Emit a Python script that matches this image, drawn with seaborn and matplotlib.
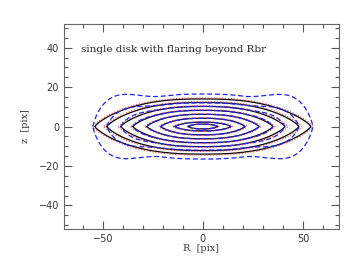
import numpy as np
import pandas as pd
import matplotlib
matplotlib.use("Agg")
import matplotlib.pyplot as plt
from matplotlib.ticker import MultipleLocator
import seaborn as sns

# isophotes: half-length along the midplane and half-height at R=0 (pix)
r_black = [7.5, 14, 21, 28, 35, 41, 48, 54]
z_black = [1.2, 2.2, 4.2, 6.2, 8.2, 10.2, 12.2, 14.0]
r_red = [8, 15, 22, 29, 36, 42.5, 49.5, 55]
z_red = [1.3, 2.4, 4.4, 6.4, 8.5, 10.5, 12.6, 14.5]
r_blue = [7, 14, 21, 28, 35, 41, 48, 55]
z_blue = [1.2, 2.2, 4.2, 6.2, 8.2, 10.2, 12.0, 16.5]

# flaring of the blue model beyond the break radius
r_break = 20.0
flare_amp = 0.00177
flare_pow = 1.94

label_text = "single disk with flaring beyond Rbr"

sns.set_style("ticks")
plt.rcParams["font.family"] = ["DejaVu Sans"]
plt.rcParams["lines.dashed_pattern"] = (4.0, 2.2)
plt.rcParams["lines.dotted_pattern"] = (1.0, 1.6)


def isophotes(r_list, z_list, flare=0.0):
    # closed lens-shaped isophotes, one unit per contour
    t = np.linspace(np.pi, 0, 400)
    rows = []
    for k, (a, b) in enumerate(zip(r_list, z_list)):
        x = a * np.cos(t)
        s = 1.0 + flare * np.clip(np.abs(x) - r_break, 0, None) ** flare_pow
        z = b * s * np.clip(1 - np.abs(x / a) ** 2.5, 0, None) ** 0.8
        xs = np.concatenate([x, x[::-1]])
        zs = np.concatenate([z, -z[::-1]])
        rows.append(pd.DataFrame({"R": xs, "z": zs, "iso": k}))
    return pd.concat(rows, ignore_index=True)


fig = plt.figure(figsize=(3.53, 2.73), dpi=100)
ax = fig.add_axes([0.181, 0.161, 0.779, 0.751])

sns.lineplot(data=isophotes(r_black, z_black), x="R", y="z", units="iso",
             estimator=None, sort=False, color="black", linewidth=0.9, ax=ax)
sns.lineplot(data=isophotes(r_red, z_red), x="R", y="z", units="iso",
             estimator=None, sort=False, color="#ff4040", linewidth=0.8,
             linestyle=":", ax=ax)
sns.lineplot(data=isophotes(r_blue, z_blue, flare_amp), x="R", y="z", units="iso",
             estimator=None, sort=False, color="#2020ff", linewidth=0.9,
             linestyle="--", ax=ax)

ax.set_xlim(-69.5, 68)
ax.set_ylim(-52, 52)
ax.xaxis.set_major_locator(MultipleLocator(50))
ax.xaxis.set_minor_locator(MultipleLocator(10))
ax.yaxis.set_major_locator(MultipleLocator(20))
ax.yaxis.set_minor_locator(MultipleLocator(5))
ax.tick_params(which="both", direction="in", top=True, right=True,
               colors="#555555", labelcolor="#333333", labelsize=7, width=0.8)
ax.tick_params(which="major", length=6)
ax.tick_params(which="minor", length=3)
for sp in ax.spines.values():
    sp.set_color("#666666")
    sp.set_linewidth(0.8)

ax.set_xlabel("R  [pix]", family="DejaVu Serif", fontsize=7, color="#333333", labelpad=0)
ax.set_ylabel("z  [pix]", family="DejaVu Serif", fontsize=7, color="#333333", labelpad=6)
ax.text(-61, 39, label_text, family="DejaVu Serif", fontsize=7.5,
        color="#222222", va="center", ha="left")

fig.savefig("out.png", dpi=100)
